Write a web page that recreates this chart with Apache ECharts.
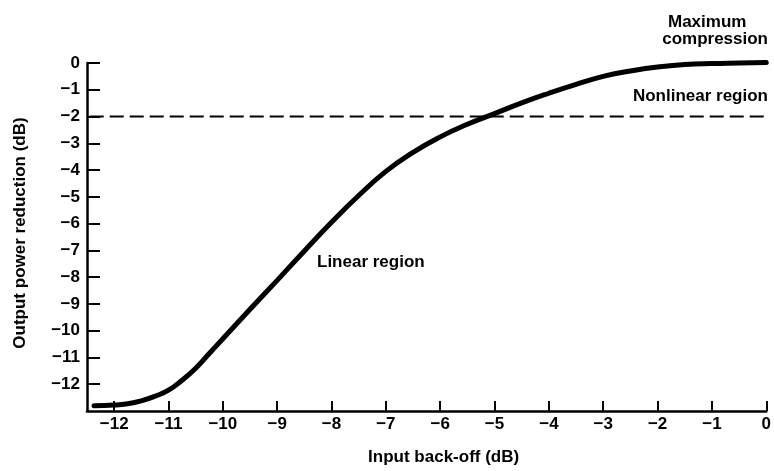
<!DOCTYPE html>
<html>
<head>
<meta charset="utf-8">
<script src="https://cdn.jsdelivr.net/npm/echarts@6/dist/echarts.min.js"></script>
<style>
  html, body { margin: 0; padding: 0; background: #fff; }
  #chart { width: 774px; height: 471px; }
</style>
</head>
<body>
<div id="chart"></div>
<script>
// Input back-off (dB) and the resulting output power reduction (dB)
const inputBackoff = [-12.37, -12, -11.75, -11.5, -11.25, -11, -10.75, -10.5, -10.25, -10, -9.5, -9, -8.5, -8, -7.5, -7, -6.5, -6, -5.5, -5, -4.5, -4, -3.5, -3, -2.5, -2, -1.5, -1, -0.5, 0];
const outputReduction = [-12.8, -12.78, -12.73, -12.62, -12.45, -12.22, -11.85, -11.4, -10.85, -10.3, -9.2, -8.12, -7.02, -5.95, -4.95, -4.05, -3.34, -2.76, -2.29, -1.89, -1.49, -1.13, -0.8, -0.5, -0.3, -0.15, -0.06, -0.02, 0, 0.02];

// Saturation threshold drawn as a dashed reference line
const thresholdLevel = -2;

// Tick labels
const xTicks = [-12, -11, -10, -9, -8, -7, -6, -5, -4, -3, -2, -1, 0];
const yTicks = [0, -1, -2, -3, -4, -5, -6, -7, -8, -9, -10, -11, -12];

const FONT = '"Liberation Sans", Arial, Helvetica, sans-serif';
const fmt = v => String(v).replace('-', '\u2212');

const chart = echarts.init(document.getElementById('chart'), null, { renderer: 'canvas' });

chart.setOption({
  animation: false,
  backgroundColor: '#ffffff',
  grid: { left: 87, right: 6, top: 63, bottom: 57, containLabel: false },
  xAxis: {
    type: 'value',
    min: -12.5,
    max: 0,
    name: 'Input back-off (dB)',
    nameLocation: 'middle',
    nameGap: 38,
    nameTextStyle: { fontFamily: FONT, fontSize: 17, fontWeight: 'bold', color: '#000', padding: [0, 0, 0, 34] },
    axisLine: { show: true, onZero: false, lineStyle: { color: '#000', width: 2.5 } },
    axisTick: { show: true, inside: true, length: 10, customValues: xTicks, lineStyle: { color: '#000', width: 2 } },
    axisLabel: { customValues: xTicks, margin: 5, formatter: fmt, fontFamily: FONT, fontSize: 17, fontWeight: 'bold', color: '#000' },
    splitLine: { show: false }
  },
  yAxis: {
    type: 'value',
    min: -13,
    max: 0,
    name: 'Output power reduction (dB)',
    nameLocation: 'middle',
    nameGap: 58,
    nameRotate: 90,
    nameTextStyle: { fontFamily: FONT, fontSize: 17, fontWeight: 'bold', color: '#000', padding: [0, 0, 0, 8] },
    axisLine: { show: true, onZero: false, lineStyle: { color: '#000', width: 2.5 } },
    axisTick: { show: true, inside: true, length: 13, customValues: yTicks, lineStyle: { color: '#000', width: 2 } },
    axisLabel: { customValues: yTicks, margin: 7, formatter: fmt, fontFamily: FONT, fontSize: 17, fontWeight: 'bold', color: '#000' },
    splitLine: { show: false }
  },
  series: [
    {
      type: 'line',
      name: 'threshold',
      data: [[-12.45, thresholdLevel], [0, thresholdLevel]],
      symbol: 'none',
      silent: true,
      lineStyle: { color: '#000', width: 2, type: [14, 6] },
      z: 2
    },
    {
      type: 'line',
      name: 'transfer',
      data: inputBackoff.map((x, i) => [x, outputReduction[i]]),
      symbol: 'none',
      smooth: 0.5,
      clip: false,
      lineStyle: { color: '#000', width: 5, cap: 'round', join: 'round' },
      z: 3
    }
  ],
  graphic: [
    { type: 'text', left: 668, top: 14, style: { text: 'Maximum', font: 'bold 17px ' + FONT, fill: '#000' } },
    { type: 'text', right: 6, top: 31, style: { text: 'compression', font: 'bold 17px ' + FONT, fill: '#000' } },
    { type: 'text', right: 6, top: 88, style: { text: 'Nonlinear region', font: 'bold 17px ' + FONT, fill: '#000' } },
    { type: 'text', left: 317, top: 254, style: { text: 'Linear region', font: 'bold 17px ' + FONT, fill: '#000' } }
  ]
});
</script>
</body>
</html>
